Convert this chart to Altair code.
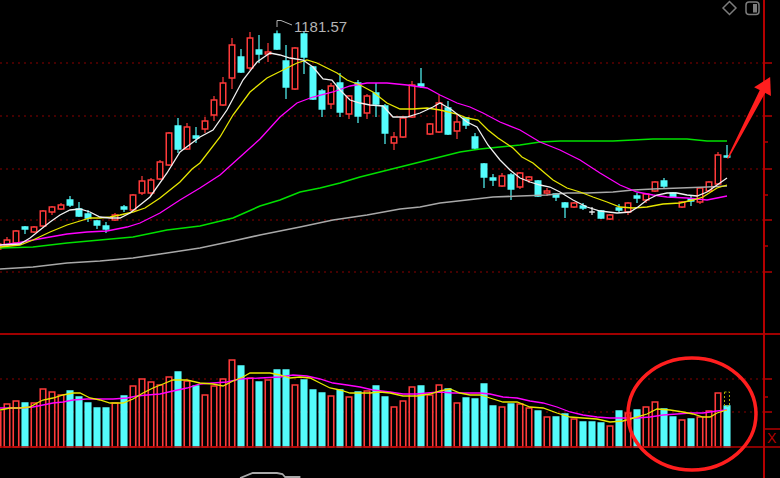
import altair as alt
import pandas as pd

# ---------------- data ----------------
opens = [963, 967, 969, 985, 980, 986, 1000, 1003, 1012, 1003,
         998, 991, 986, 992, 1005, 1002, 1019, 1019, 1033, 1047,
         1086, 1063, 1076, 1083, 1097, 1107, 1134, 1155, 1144, 1162,
         1158, 1178, 1151, 1123, 1178, 1145, 1121, 1108, 1129, 1098,
         1129, 1099, 1119, 1106, 1069, 1075, 1095, 1128, 1078, 1080,
         1104, 1081, 1094, 1075, 1048, 1034, 1026, 1037, 1025, 1032,
         1031, 1019, 1018, 1009, 1005, 1006, 1000, 1001, 993, 1004,
         1000, 1016, 1012, 1021, 1031, 1019, 1005, 1013, 1010, 1021,
         1028, 1056]
closes = [968, 972, 981, 983, 985, 1001, 1005, 1007, 1007, 996,
          994, 987, 983, 997, 1003, 1017, 1031, 1032, 1050, 1079,
          1063, 1085, 1074, 1091, 1112, 1129, 1167, 1140, 1174, 1158,
          1160, 1163, 1125, 1164, 1155, 1113, 1103, 1126, 1100, 1116,
          1096, 1116, 1108, 1079, 1075, 1094, 1127, 1126, 1088, 1109,
          1078, 1090, 1087, 1064, 1035, 1032, 1036, 1023, 1039, 1035,
          1016, 1021, 1015, 1005, 1009, 1004, 1000, 994, 997, 1002,
          1009, 1014, 1018, 1030, 1026, 1015, 1010, 1011, 1024, 1030,
          1057, 1055]
highs = [969, 975, 982, 986, 986, 1002, 1006, 1009, 1016, 1010,
         1002, 992, 990, 999, 1007, 1018, 1036, 1034, 1052, 1080,
         1094, 1089, 1085, 1095, 1116, 1135, 1174, 1163, 1180, 1177,
         1169, 1181.57, 1167, 1165, 1180, 1146, 1123, 1129, 1139, 1117,
         1132, 1118, 1129, 1108, 1080, 1095, 1131, 1144, 1089, 1117,
         1111, 1097, 1095, 1079, 1049, 1038, 1039, 1039, 1040, 1036,
         1032, 1024, 1019, 1010, 1010, 1009, 1005, 1002, 998, 1008,
         1010, 1019, 1019, 1031, 1034, 1020, 1011, 1017, 1025, 1031,
         1060, 1067]
lows = [962, 966, 968, 978, 979, 985, 997, 1002, 1005, 995,
        990, 983, 979, 991, 1000, 1001, 1017, 1017, 1032, 1046,
        1059, 1062, 1069, 1079, 1091, 1106, 1123, 1139, 1142, 1149,
        1150, 1162, 1113, 1122, 1138, 1112, 1095, 1103, 1095, 1093,
        1089, 1093, 1095, 1068, 1062, 1074, 1094, 1124, 1077, 1079,
        1077, 1073, 1083, 1062, 1024, 1026, 1025, 1012, 1023, 1029,
        1015, 1016, 1011, 994, 1004, 1002, 997, 993, 992, 1000,
        997, 1009, 1009, 1020, 1024, 1014, 1004, 1006, 1008, 1020,
        1027, 1054]
volumes = [35, 43, 46, 44, 44, 58, 55, 52, 56, 50,
           44, 39, 39, 44, 51, 61, 68, 65, 62, 70,
           75, 66, 61, 52, 61, 68, 87, 81, 69, 65,
           67, 77, 77, 62, 67, 57, 54, 51, 57, 50,
           55, 56, 61, 50, 40, 46, 60, 61, 52, 62,
           58, 44, 49, 48, 63, 41, 40, 43, 43, 39,
           36, 30, 30, 33, 28, 25, 25, 24, 21, 36,
           34, 37, 40, 45, 38, 30, 27, 28, 30, 36,
           54, 41]
forecast_vol = 55  # dotted outline above the last volume bar

ma5_idx = [0.22, 2.44, 3.56, 4.67, 5.78, 6.89, 8.00, 9.11, 10.22, 11.33, 12.44, 13.56, 14.67, 16.89, 18.78,
           20.22, 22.44, 23.89, 25.44, 27.22, 28.78, 30.22, 31.33, 32.44, 33.89, 35.00, 36.11, 37.11, 38.00,
           39.11, 40.22, 41.33, 42.78, 43.89, 45.44, 46.89, 48.33, 49.11, 50.44, 52.11, 53.22, 54.44, 55.78,
           56.89, 58.00, 59.11, 60.22, 61.33, 62.44, 63.89, 65.44, 66.89, 68.78, 70.22, 71.11, 72.11, 73.22,
           74.33, 75.44, 76.56, 77.67, 78.78, 79.89, 81.00]
ma5_val = [967, 968, 974, 982, 990, 997, 1002, 1003, 1000, 995, 994, 994, 999, 1015, 1039, 1060, 1075, 1082,
           1102, 1132, 1150, 1159, 1157, 1154, 1152, 1145, 1133, 1132, 1122, 1112, 1109, 1107, 1106, 1095,
           1095, 1099, 1105, 1109, 1102, 1090, 1085, 1067, 1052, 1042, 1034, 1030, 1027, 1025, 1020, 1012,
           1005, 1001, 999, 1000, 1005, 1012, 1017, 1019, 1019, 1017, 1016, 1020, 1027, 1034]
ma10_idx = [0.22, 2.44, 3.89, 5.78, 7.67, 9.11, 10.22, 11.33, 12.44, 13.56, 15.00, 16.33, 18.00, 20.22, 21.56,
            22.44, 24.67, 26.11, 28.00, 29.89, 31.67, 33.22, 34.33, 35.44, 36.56, 37.67, 38.78, 40.22, 41.67,
            43.22, 44.67, 46.11, 47.67, 49.11, 51.00, 52.11, 53.33, 54.44, 55.56, 57.22, 58.22, 59.44, 61.67,
            63.22, 64.67, 66.11, 67.67, 69.11, 70.56, 72.11, 73.89, 75.78, 77.22, 78.33, 79.89, 81.00]
ma10_val = [965, 967, 972, 980, 987, 991, 994, 994, 995, 997, 1000, 1004, 1014, 1030, 1043, 1049, 1075, 1097,
            1120, 1134, 1142, 1149, 1152, 1149, 1144, 1139, 1132, 1127, 1120, 1109, 1103, 1103, 1104, 1102,
            1098, 1094, 1092, 1082, 1074, 1064, 1055, 1049, 1032, 1024, 1020, 1015, 1010, 1005, 1004, 1005,
            1008, 1009, 1012, 1015, 1024, 1027]
ma20_idx = [0.22, 2.11, 3.89, 5.78, 7.67, 9.89, 12.11, 14.33, 15.78, 18.00, 20.22, 22.44, 24.67, 26.89, 29.11,
            31.33, 33.22, 35.00, 37.22, 39.11, 41.00, 43.22, 45.44, 47.67, 49.11, 51.00, 52.44, 53.89, 55.78,
            58.00, 60.22, 62.44, 64.67, 66.89, 69.11, 71.00, 72.78, 74.33, 76.56, 78.78, 79.89, 81.00]
ma20_val = [967, 969, 972, 975, 978, 980, 981, 985, 989, 999, 1012, 1024, 1037, 1055, 1073, 1095, 1109, 1115,
            1120, 1126, 1129, 1129, 1127, 1124, 1117, 1109, 1105, 1099, 1090, 1082, 1070, 1062, 1052, 1039,
            1027, 1020, 1017, 1015, 1014, 1012, 1014, 1016]
ma60_idx = [0.22, 3.89, 7.67, 11.33, 15.00, 18.78, 22.44, 26.11, 29.11, 31.33, 33.56, 35.78, 38.00, 40.22,
            42.44, 44.67, 46.89, 49.11, 51.33, 53.56, 55.78, 58.00, 60.22, 62.44, 65.44, 68.33, 70.56, 72.78,
            76.56, 78.78, 81.00]
ma60_val = [964, 965, 969, 972, 975, 982, 986, 994, 1006, 1012, 1020, 1024, 1029, 1035, 1040, 1045, 1050,
            1055, 1060, 1063, 1065, 1067, 1070, 1071, 1071, 1071, 1072, 1073, 1073, 1071, 1071]
ma120_idx = [0.22, 3.89, 7.67, 11.33, 15.00, 18.78, 22.44, 26.11, 29.11, 33.56, 37.22, 41.00, 44.67, 46.89,
             49.11, 52.11, 55.00, 58.00, 61.00, 63.22, 65.44, 68.33, 70.56, 72.78, 75.78, 78.78, 81.00]
ma120_val = [943, 945, 949, 951, 954, 959, 964, 971, 977, 985, 992, 997, 1003, 1005, 1009, 1012, 1015, 1016,
             1017, 1019, 1019, 1020, 1022, 1023, 1024, 1025, 1026]

vma5_idx = [0.22, 1.33, 2.44, 3.56, 4.33, 5.0, 6.11, 7.22, 8.33, 9.11, 10.22, 11.33, 12.44, 13.89, 15.0, 16.11,
            17.22, 18.33, 19.44, 21.0, 22.44, 23.89, 25.0, 26.11, 27.22, 28.0, 30.22, 31.33, 32.44, 33.56, 34.67,
            35.78, 36.89, 38.0, 39.11, 40.22, 41.33, 42.44, 43.56, 45.0, 46.56, 48.0, 49.11, 50.22, 51.33,
            52.44, 53.56, 54.67, 56.11, 57.67, 59.11, 60.56, 62.11, 63.56, 65.0, 66.56, 68.0, 69.44, 71.0,
            72.11, 73.22, 74.67, 76.11, 77.22, 78.33, 79.11, 79.89, 81.0]
vma5_val = [37, 39, 39, 40, 44, 47, 49, 52, 54, 54, 49, 47, 44, 44, 48, 54, 59, 63, 67, 67, 64, 63, 61, 66,
            70, 74, 74, 72, 69, 70, 69, 64, 59, 57, 54, 54, 54, 55, 54, 51, 51, 53, 56, 58, 54, 52, 52, 49,
            45, 45, 40, 39, 34, 30, 29, 28, 25, 26, 30, 33, 38, 37, 35, 33, 30, 30, 34, 37]
vma10_idx = [0.22, 2.44, 3.89, 5.0, 6.11, 7.22, 8.33, 9.89, 11.33, 12.78, 14.33, 15.44, 16.56, 18.0, 19.44,
             21.0, 22.44, 23.89, 25.44, 26.89, 29.11, 31.33, 32.78, 34.33, 35.78, 37.22, 38.78, 40.22, 41.67,
             43.56, 45.0, 46.56, 47.67, 49.11, 50.56, 52.11, 53.56, 54.67, 56.11, 57.67, 59.11, 60.56, 62.11,
             63.56, 65.0, 66.56, 68.0, 69.44, 71.0, 72.44, 73.89, 75.44, 76.89, 78.33, 79.89, 81.0]
vma10_val = [39, 39, 40, 42, 44, 45, 47, 48, 48, 48, 49, 51, 52, 53, 56, 59, 63, 64, 65, 68, 69, 70, 72, 71,
             68, 64, 62, 60, 57, 55, 53, 53, 54, 55, 54, 54, 54, 53, 50, 49, 46, 44, 40, 35, 32, 30, 29, 29,
             29, 30, 32, 33, 34, 34, 36, 37]

sub_idx = [26.9, 28.3, 31.0, 31.6, 31.9, 33.6]   # lower indicator panel (cut off)
sub_val = [0, 5, 5, 4, 1, 1]

price_grid = [1149, 1096, 1043, 992, 940]
price_minor = [1122, 1070, 1017, 966]
vol_grid = [68, 35]
vol_minor = [50]
peak_label = "1181.57"

# ---------------- styling ----------------
RED = "#ff3a3a"
CYAN = "#54fcfc"
FLAT = "#e8e8e8"
GRID = "#8a0000"
FRAME = "#b40000"
ARROW = "#ff1e1e"
N = len(opens)

kind = ["up" if c > o else ("down" if c < o else "flat") for o, c in zip(opens, closes)]
vkind = ["up" if c > o else "down" for o, c in zip(opens, closes)]
cdf = pd.DataFrame({"i": list(range(N)), "open": opens, "high": highs, "low": lows,
                    "close": closes, "vol": volumes, "kind": kind, "vkind": vkind,
                    "zero": [0] * N})

XS = alt.Scale(domain=[0, 81], range=[-2, 727], nice=False, zero=False, padding=0)
PS = alt.Scale(domain=[734, 1212], range=[478, 0], nice=False, zero=False, padding=0)
VS = alt.Scale(domain=[0, 68], range=[447, 379], nice=False, zero=False, padding=0)
SS = alt.Scale(domain=[0, 10], range=[478, 468], nice=False, zero=False, padding=0)
KD = ["up", "down", "flat"]
STROKE = alt.Scale(domain=KD, range=[RED, CYAN, FLAT])
FILL = alt.Scale(domain=KD, range=["#000000", CYAN, FLAT])

X = alt.X("i:Q", scale=XS, axis=None)
one = pd.DataFrame({"a": [0]})
layers = []

# grid lines (price and volume)
layers.append(alt.Chart(pd.DataFrame({"p": price_grid})).mark_rule(
    color=GRID, strokeDash=[2, 4], strokeWidth=1).encode(
    y=alt.Y("p:Q", scale=PS, axis=None), x=alt.value(0), x2=alt.value(764)))
layers.append(alt.Chart(pd.DataFrame({"v": vol_grid})).mark_rule(
    color=GRID, strokeDash=[2, 4], strokeWidth=1).encode(
    y=alt.Y("v:Q", scale=VS, axis=None), x=alt.value(0), x2=alt.value(764)))

# right-side ticks
layers.append(alt.Chart(pd.DataFrame({"p": price_grid})).mark_rule(color=FRAME, strokeWidth=1.5).encode(
    y=alt.Y("p:Q", scale=PS, axis=None), x=alt.value(764), x2=alt.value(772)))
layers.append(alt.Chart(pd.DataFrame({"p": price_minor})).mark_rule(color=FRAME, strokeWidth=1.5).encode(
    y=alt.Y("p:Q", scale=PS, axis=None), x=alt.value(764), x2=alt.value(768)))
layers.append(alt.Chart(pd.DataFrame({"v": vol_grid})).mark_rule(color=FRAME, strokeWidth=1.5).encode(
    y=alt.Y("v:Q", scale=VS, axis=None), x=alt.value(764), x2=alt.value(772)))
layers.append(alt.Chart(pd.DataFrame({"v": vol_minor})).mark_rule(color=FRAME, strokeWidth=1.5).encode(
    y=alt.Y("v:Q", scale=VS, axis=None), x=alt.value(764), x2=alt.value(768)))

# frame lines
layers.append(alt.Chart(one).mark_rule(color="#a00000", strokeWidth=2).encode(
    x=alt.value(0), x2=alt.value(780), y=alt.value(334)))
layers.append(alt.Chart(one).mark_rule(color=FRAME, strokeWidth=2).encode(
    x=alt.value(764), y=alt.value(0), y2=alt.value(478)))
layers.append(alt.Chart(one).mark_rule(color=FRAME, strokeWidth=1.5).encode(
    x=alt.value(764), x2=alt.value(780), y=alt.value(429)))
layers.append(alt.Chart(one).mark_text(color=FRAME, fontSize=14, font="Liberation Sans",
                                       align="left", baseline="middle").encode(
    x=alt.value(767), y=alt.value(439), text=alt.value("X")))

# candles
layers.append(alt.Chart(cdf).mark_rule(strokeWidth=1.2).encode(
    x=X, y=alt.Y("low:Q", scale=PS, axis=None), y2="high:Q",
    stroke=alt.Stroke("kind:N", scale=STROKE, legend=None)))
layers.append(alt.Chart(cdf).mark_bar(size=5.5, strokeWidth=1.5).encode(
    x=X, y=alt.Y("open:Q", scale=PS, axis=None), y2="close:Q",
    fill=alt.Fill("kind:N", scale=FILL, legend=None),
    stroke=alt.Stroke("kind:N", scale=STROKE, legend=None)))

# volume bars
layers.append(alt.Chart(cdf).mark_bar(size=5.5, strokeWidth=1.6).encode(
    x=X, y=alt.Y("vol:Q", scale=VS, axis=None), y2="zero:Q",
    fill=alt.Fill("vkind:N", scale=FILL, legend=None),
    stroke=alt.Stroke("vkind:N", scale=STROKE, legend=None)))
fdf = pd.DataFrame({"i": [N - 1], "lo": [volumes[-1]], "hi": [forecast_vol]})
layers.append(alt.Chart(fdf).mark_bar(size=5, fillOpacity=0, stroke="#a8a800",
                                      strokeWidth=1, strokeDash=[2, 2]).encode(
    x=X, y=alt.Y("hi:Q", scale=VS, axis=None), y2="lo:Q"))

# baseline of volume panel
layers.append(alt.Chart(one).mark_rule(color=FRAME, strokeWidth=1.5).encode(
    x=alt.value(0), x2=alt.value(780), y=alt.value(447)))


def line(idx, vals, color, scale, width=1.3):
    df = pd.DataFrame({"idx": idx, "val": vals})
    return alt.Chart(df).mark_line(color=color, strokeWidth=width).encode(
        x=alt.X("idx:Q", scale=XS, axis=None),
        y=alt.Y("val:Q", scale=scale, axis=None))


layers += [
    line(ma120_idx, ma120_val, "#a8a8a8", PS, 1.6),
    line(ma60_idx, ma60_val, "#00e000", PS, 1.6),
    line(ma20_idx, ma20_val, "#ff00ff", PS),
    line(ma10_idx, ma10_val, "#e6e600", PS),
    line(ma5_idx, ma5_val, "#f0f0f0", PS),
    line(vma10_idx, vma10_val, "#ff00ff", VS),
    line(vma5_idx, vma5_val, "#e6e600", VS),
    line(sub_idx, sub_val, "#a8a8a8", SS, 1.8),
]

# peak marker and label
lead = pd.DataFrame({"idx": [31.0, 31.0, 31.44, 32.67], "val": [1185, 1191.5, 1191.5, 1187], "o": [0, 1, 2, 3]})
layers.append(alt.Chart(lead).mark_line(color="#b4b4b4", strokeWidth=1).encode(
    x=alt.X("idx:Q", scale=XS, axis=None), y=alt.Y("val:Q", scale=PS, axis=None), order="o:Q"))
hdf = pd.DataFrame({"i": [31], "p": [max(highs)], "label": [peak_label]})
layers.append(alt.Chart(hdf).mark_text(color="#b4b4b4", fontSize=15, font="Liberation Sans",
                                       align="left", baseline="middle", dx=17, dy=-3).encode(
    x=X, y=alt.Y("p:Q", scale=PS, axis=None), text="label:N"))

# red arrow
adf = pd.DataFrame({"ax": [81.11, 84.94], "ay": [1054, 1120.5], "w": [1.5, 6]})
layers.append(alt.Chart(adf).mark_trail(color=ARROW).encode(
    x=alt.X("ax:Q", scale=XS, axis=None), y=alt.Y("ay:Q", scale=PS, axis=None),
    size=alt.Size("w:Q", scale=None, legend=None)))
hd = pd.DataFrame({"ax": [85.37], "ay": [1127.7]})
layers.append(alt.Chart(hd).mark_point(shape="triangle-up", size=361, angle=27.6, filled=True,
                                       color=ARROW, opacity=1).encode(
    x=alt.X("ax:Q", scale=XS, axis=None), y=alt.Y("ay:Q", scale=PS, axis=None)))

# red ellipse around recent volume
ELLIPSE = ("M 1 0 C 1 0.4833 0.5523 0.875 0 0.875 C -0.5523 0.875 -1 0.4833 -1 0 "
           "C -1 -0.4833 -0.5523 -0.875 0 -0.875 C 0.5523 -0.875 1 -0.4833 1 0 Z")
edf = pd.DataFrame({"ex": [77.11], "ey": [33]})
layers.append(alt.Chart(edf).mark_point(shape=ELLIPSE, size=16384, filled=False, color=ARROW,
                                        strokeWidth=3.5, opacity=1).encode(
    x=alt.X("ex:Q", scale=XS, axis=None), y=alt.Y("ey:Q", scale=VS, axis=None)))

# top-right toolbar icons
layers.append(alt.Chart(one).mark_point(shape="diamond", size=169, filled=False, color="#7c7c7c",
                                        strokeWidth=1.5, opacity=1).encode(
    x=alt.value(729.5), y=alt.value(8)))
layers.append(alt.Chart(one).mark_rect(fillOpacity=0, stroke="#7c7c7c", strokeWidth=1.5,
                                       cornerRadius=3).encode(
    x=alt.value(746), x2=alt.value(759), y=alt.value(2), y2=alt.value(14.5)))
layers.append(alt.Chart(one).mark_rect(color="#7c7c7c").encode(
    x=alt.value(753), x2=alt.value(757), y=alt.value(4), y2=alt.value(12.5)))

chart = alt.layer(*layers).resolve_scale(y="independent").properties(
    width=780, height=478, padding=0,
    autosize=alt.AutoSizeParams(type="none"),
    background="#000000",
).configure_view(stroke=None)

chart.save("out.html", embed_options={"renderer": "svg", "actions": False})
